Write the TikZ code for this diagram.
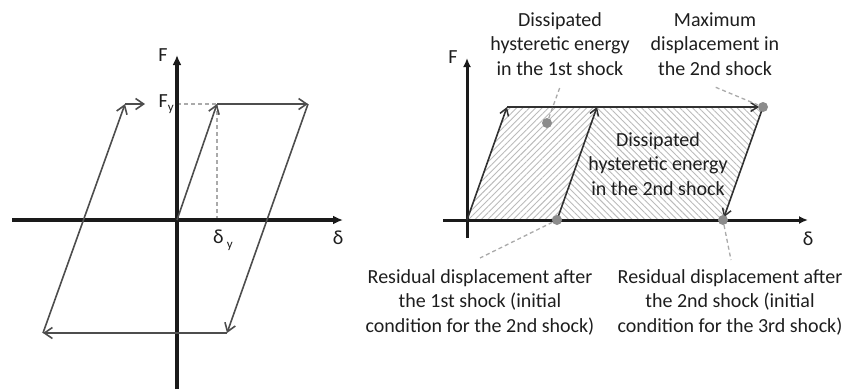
\documentclass[tikz,border=0pt]{standalone}
\usepackage{fontspec}
\setmainfont{Carlito}
\usetikzlibrary{arrows.meta,patterns.meta}
\definecolor{axisc}{HTML}{1A1A1A}
\definecolor{linec}{HTML}{4D4D4D}
\definecolor{dotc}{HTML}{8C8C8C}
\definecolor{leadc}{HTML}{AAAAAA}
\definecolor{hatchc}{HTML}{BBBBBB}
\definecolor{textc}{HTML}{1E1E1E}
\begin{document}
\begin{tikzpicture}[x=1pt,y=-1pt,
  axis/.style={draw=axisc,line width=3.8pt,-{Latex[length=10pt,width=9pt]}},
  axisb/.style={draw=axisc,line width=3pt,-{Latex[length=9pt,width=8pt]}},
  hyst/.style={draw=linec,line width=1.6pt,-{Straight Barb[length=8pt,width=11pt,line width=1.6pt]}},
  hystb/.style={draw=axisc!90,line width=1.6pt,-{Straight Barb[length=7pt,width=9pt,line width=1.5pt]}},
  guide/.style={draw=leadc,line width=1.3pt,dash pattern=on 4pt off 3pt},
  lbl/.style={text=textc,font=\fontsize{20}{25}\selectfont,inner sep=0pt},
  note/.style={text=textc,font=\fontsize{20}{24.5}\selectfont,align=center,inner sep=0pt},
  dotn/.style={circle,fill=dotc,minimum size=10pt,inner sep=0pt},
  hatchA/.style={pattern={Lines[angle=45,distance=4.5pt,line width=0.9pt]},pattern color=hatchc},
  hatchB/.style={pattern={Lines[angle=-45,distance=4.5pt,line width=0.9pt]},pattern color=hatchc}
]
\useasboundingbox (0,0) rectangle (846,389);
% ---------------- left plot ----------------
\coordinate (xl0) at (12,220);
\coordinate (xl1) at (343,220);
\coordinate (yl0) at (177,389);
\coordinate (yl1) at (177,55);
\coordinate (O1) at (177,220);
\coordinate (Y1) at (217,104);
\coordinate (Fy0) at (177,104);
\coordinate (dy0) at (217,220);
\coordinate (A1) at (308,104);
\coordinate (B1) at (227,333);
\coordinate (C1) at (43,333);
\coordinate (D1) at (125,104);
\coordinate (E1) at (145,104);
\draw[guide] (Fy0) -- (Y1);
\draw[guide] (Y1) -- (dy0);
\draw[axis] (xl0) -- (xl1);
\draw[axis] (yl0) -- (yl1);
\draw[hyst] (O1) -- (Y1);
\draw[hyst] (Y1) -- (A1);
\draw[hyst] (A1) -- (B1);
\draw[hyst] (B1) -- (C1);
\draw[hyst] (C1) -- (D1);
\draw[hyst] (D1) -- (E1);
\node[lbl] (Fl) at (163,55) {F};
\node[lbl,anchor=east] (Fyl) at (174,104) {F\raisebox{-0.35ex}{\fontsize{13}{13}\selectfont y}};
\node[lbl] (dyl) at (223,240) {δ\,\raisebox{-0.5ex}{\fontsize{13}{13}\selectfont y}};
\node[lbl] (dl) at (338,238) {δ};
% ---------------- right plot ----------------
\coordinate (xr0) at (443,220);
\coordinate (xr1) at (808,220);
\coordinate (yr0) at (467,238);
\coordinate (yr1) at (467,58);
\coordinate (O2) at (467,220);
\coordinate (P1) at (507,107);
\coordinate (Q1) at (557,220);
\coordinate (Q2) at (597,107);
\coordinate (M) at (763,107);
\coordinate (R) at (723,220);
\fill[hatchA] (O2) -- (P1) -- (Q2) -- (Q1) -- cycle;
\fill[hatchB] (Q1) -- (Q2) -- (M) -- (R) -- cycle;
\draw[axisb] (xr0) -- (xr1);
\draw[axisb] (yr0) -- (yr1);
\draw[hystb] (O2) -- (P1);
\draw[hystb,shorten >=4pt] (P1) -- (M);
\draw[hystb,shorten >=3pt] (M) -- (R);
\draw[hystb] (Q1) -- (Q2);
\node[dotn] (dH) at (547,123) {};
\node[dotn] (dM) at (M) {};
\node[dotn] (dQ) at (Q1) {};
\node[dotn] (dR) at (R) {};
\node[lbl] (Fr) at (453,57) {F};
\node[lbl] (dr) at (808,239) {δ};
\node[note] (n1) at (560,44) {Dissipated\\hysteretic energy\\in the 1st shock};
\node[note] (n2) at (715,44) {Maximum\\displacement in\\the 2nd shock};
\node[note] (n3) at (658,164) {Dissipated\\hysteretic energy\\in the 2nd shock};
\node[note] (n4) at (480,302) {Residual displacement after\\the 1st shock (initial\\condition for the 2nd shock)};
\node[note] (n5) at (730,302) {Residual displacement after\\the 2nd shock (initial\\condition for the 3rd shock)};
\coordinate (t1) at (560,87);
\coordinate (t2) at (715,87);
\coordinate (t4) at (480,258);
\coordinate (t5) at (731,260);
\draw[guide] (dH) -- (t1);
\draw[guide] (dM) -- (t2);
\draw[guide] (dQ) -- (t4);
\draw[guide] (dR) -- (t5);
\end{tikzpicture}
\end{document}
